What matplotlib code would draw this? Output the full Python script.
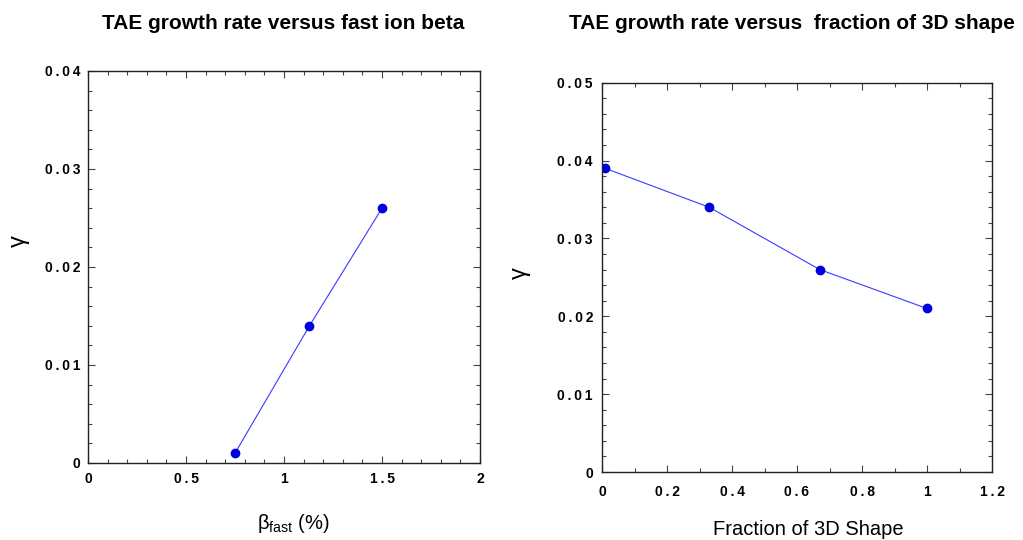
import matplotlib
matplotlib.use("Agg")
import matplotlib.pyplot as plt
from matplotlib.ticker import MultipleLocator, FuncFormatter

plt.rcParams['font.family'] = ['Liberation Sans', 'DejaVu Sans']

# ---- data ----
beta_fast = [0.75, 1.13, 1.50]
gamma_beta = [0.001, 0.014, 0.026]

fraction_3d = [0.01, 0.33, 0.67, 1.00]
gamma_frac = [0.039, 0.034, 0.026, 0.021]

title_left = "TAE growth rate versus fast ion beta"
title_right = "TAE growth rate versus  fraction of 3D shape"
xlabel_left = r"$\mathregular{\beta_{fast}}$ (%)"
xlabel_right = "Fraction of 3D Shape"
ylabel = "γ"

LINE_C = "#3a3aff"
MARK_C = "#0000dd"
SPINE_C = "#222222"


def spaced(v, pos):
    s = ("%g" % round(v, 6))
    return "\u2009".join(list(s))


fig = plt.figure(figsize=(10.23, 5.40), dpi=100)
W, H = 1023, 540


def add_axes(x0, x1, ytop, ybot):
    return fig.add_axes([x0 / W, 1 - ybot / H, (x1 - x0) / W, (ybot - ytop) / H])


axL = add_axes(88, 480, 71, 463)
axR = add_axes(602, 992, 82.7, 472)


def style(ax, xmaj, xmin, ymaj, ymin, xpad, ypad):
    ax.xaxis.set_major_locator(MultipleLocator(xmaj))
    ax.xaxis.set_minor_locator(MultipleLocator(xmin))
    ax.yaxis.set_major_locator(MultipleLocator(ymaj))
    ax.yaxis.set_minor_locator(MultipleLocator(ymin))
    ax.xaxis.set_major_formatter(FuncFormatter(spaced))
    ax.yaxis.set_major_formatter(FuncFormatter(spaced))
    ax.tick_params(which='both', direction='in', top=True, right=True,
                   color='#444444', width=0.8)
    ax.tick_params(which='major', length=5)
    ax.tick_params(which='minor', length=2.6)
    ax.tick_params(axis='x', which='major', pad=xpad)
    ax.tick_params(axis='y', which='major', pad=ypad)
    for lab in ax.get_xticklabels() + ax.get_yticklabels():
        lab.set_fontweight('bold')
        lab.set_fontsize(10)
    for sp in ax.spines.values():
        sp.set_color(SPINE_C)
        sp.set_linewidth(1.0)


TITLE_FS = 15

# left panel
axL.plot(beta_fast, gamma_beta, '-', color=LINE_C, lw=0.8)
axL.plot(beta_fast, gamma_beta, 'o', color=MARK_C, ms=6, mec=MARK_C)
axL.set_xlim(0, 2)
axL.set_ylim(0, 0.04)
style(axL, 0.5, 0.1, 0.01, 0.002, 6.5, 5.5)
axL.set_title(title_left, fontsize=TITLE_FS, fontweight='bold', pad=0,
              va='baseline', x=0.4987, y=(463 - 29) / 392)
axL.set_xlabel(xlabel_left, fontsize=14.5, va='baseline')
axL.xaxis.set_label_coords(0.523, (463 - 529) / 392)
axL.set_ylabel(ylabel, fontsize=17, va='center', ha='center')
axL.yaxis.set_label_coords((19 - 88) / 392, (463 - 241) / 392)

# right panel
axR.plot(fraction_3d, gamma_frac, '-', color=LINE_C, lw=0.8)
axR.plot(fraction_3d, gamma_frac, 'o', color=MARK_C, ms=6, mec=MARK_C)
axR.set_xlim(0, 1.2)
axR.set_ylim(0, 0.05)
style(axR, 0.2, 0.1, 0.01, 0.002, 9.5, 6.5)
axR.set_title(title_right, fontsize=TITLE_FS, fontweight='bold', pad=0,
              va='baseline', x=(792 - 602) / 390, y=(472 - 29) / 389.3)
axR.set_xlabel(xlabel_right, fontsize=14.5, va='baseline')
axR.xaxis.set_label_coords((808.7 - 602) / 390, (472 - 535) / 389.3)
axR.set_ylabel(ylabel, fontsize=17, va='center', ha='center')
axR.yaxis.set_label_coords((520 - 602) / 390, (472 - 273) / 389.3)

fig.savefig("out.png", dpi=100, facecolor='white')
